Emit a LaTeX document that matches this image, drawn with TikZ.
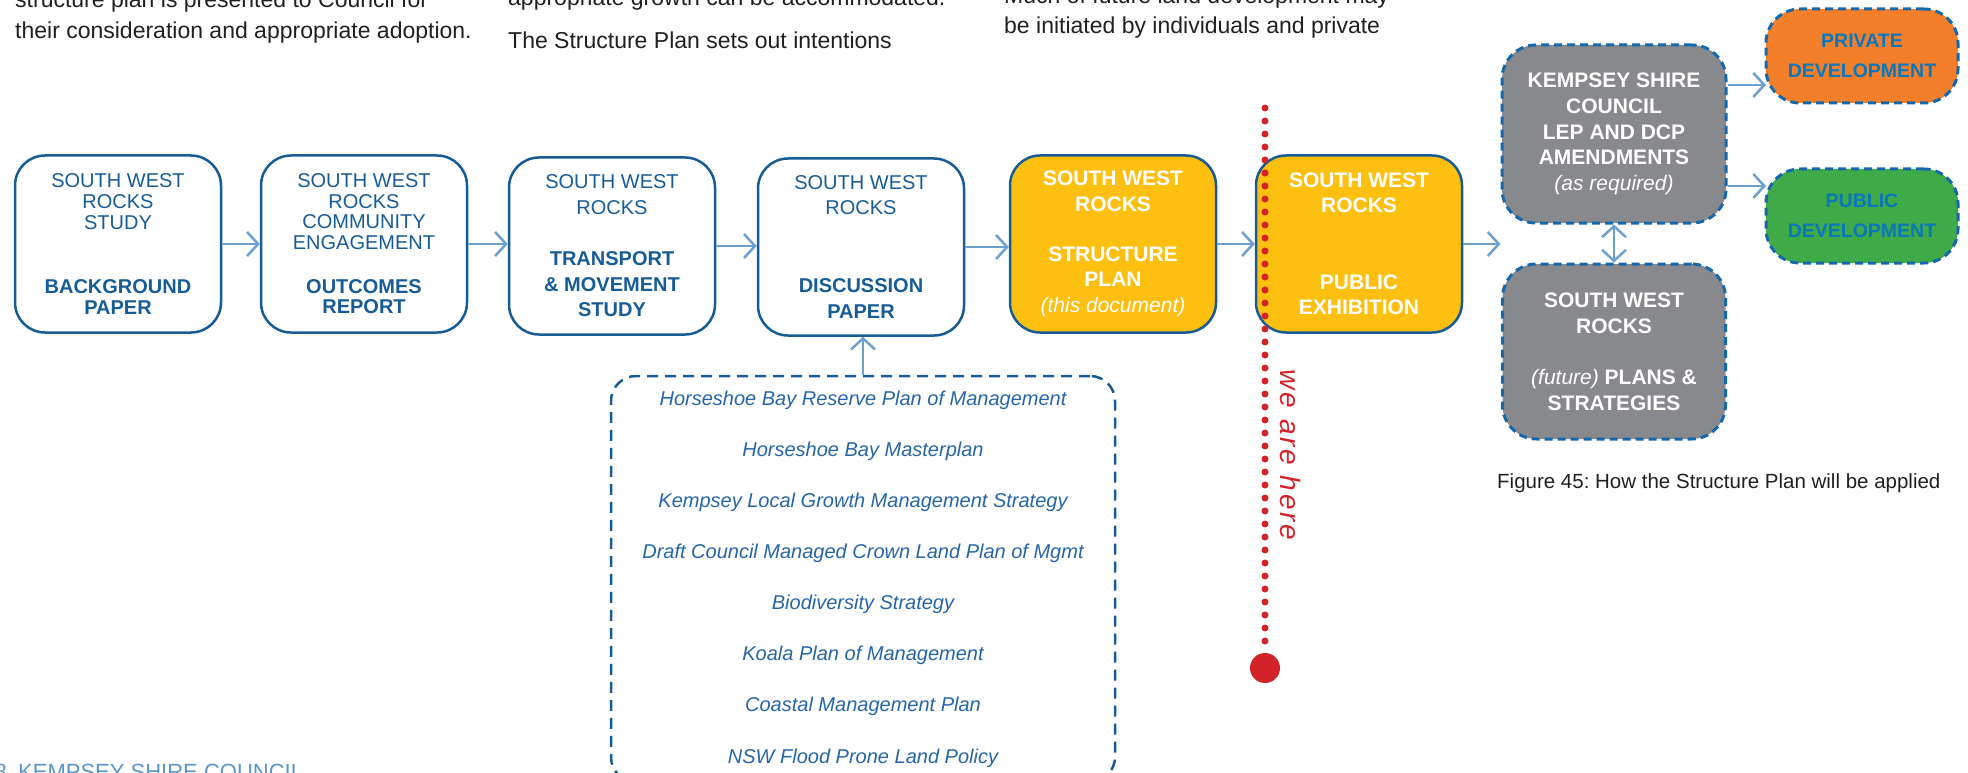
\documentclass[tikz,border=0pt]{standalone}
\usepackage{fontspec}
\setmainfont{Liberation Sans}
\newfontfamily\herefont[LetterSpace=10]{Liberation Sans}
\usetikzlibrary{arrows.meta}
\frenchspacing

\definecolor{swrblue}{RGB}{24,92,150}
\definecolor{listblue}{RGB}{38,102,166}
\definecolor{arrowblue}{RGB}{108,160,206}
\definecolor{swryellow}{RGB}{253,191,16}
\definecolor{swrgrey}{RGB}{135,137,140}
\definecolor{devorange}{RGB}{243,127,43}
\definecolor{devgreen}{RGB}{62,170,72}
\definecolor{dashblue}{RGB}{22,104,172}
\definecolor{devtext}{RGB}{10,118,188}
\definecolor{herered}{RGB}{210,35,42}
\definecolor{footblue}{RGB}{92,150,200}
\definecolor{bodytext}{RGB}{35,31,32}

\tikzset{
  bodytxt/.style={anchor=base west, inner sep=0pt, text=bodytext, font=\fontsize{23}{28}\selectfont},
  stage/.style={draw=swrblue, line width=2.5pt, rounded corners=30pt, minimum width=206pt, minimum height=177pt,
    inner sep=0pt, align=center, text=swrblue, font=\fontsize{20}{25.5}\selectfont},
  nowstage/.style={stage, fill=swryellow, text=white, font=\fontsize{21}{25.5}\selectfont\bfseries},
  laterstage/.style={draw=dashblue, line width=3pt, dash pattern=on 8pt off 5pt, rounded corners=34pt, fill=swrgrey,
    inner sep=0pt, align=center, text=white, font=\fontsize{21}{25.8}\selectfont\bfseries},
  devbox/.style={laterstage, minimum width=192pt, minimum height=94pt, text=devtext, font=\fontsize{19.5}{30}\selectfont\bfseries},
  reflist/.style={draw=swrblue, line width=2.5pt, dash pattern=on 11pt off 7pt, rounded corners=25pt, minimum width=504pt,
    minimum height=406pt, inner sep=0pt, align=center, text=listblue, font=\fontsize{20}{51.1}\selectfont\itshape},
  flow/.style={draw=arrowblue, line width=2.5pt, -{Straight Barb[length=11pt,width=24pt]}},
  hereline/.style={draw=herered, line width=7pt, line cap=round, dash pattern=on 0pt off 13pt},
}

\begin{document}
\begin{tikzpicture}[x=1pt,y=-1pt]
  \useasboundingbox (0,0) rectangle (1968,773);
  \clip (0,0) rectangle (1968,773);

  % page text round the figure
  \node[bodytxt] (introa) at (15,8) {structure plan is presented to Council for};
  \node[bodytxt] (introb) at (15,39) {their consideration and appropriate adoption.};
  \node[bodytxt] (growtha) at (508,6) {appropriate growth can be accommodated.};
  \node[bodytxt] (growthb) at (508,49) {The Structure Plan sets out intentions};
  \node[bodytxt] (landa) at (1004,4) {Much of future land development may};
  \node[bodytxt] (landb) at (1004,34) {be initiated by individuals and private};
  \node[anchor=base east, inner sep=0pt, text=footblue, font=\fontsize{22}{26}\selectfont] (pageno) at (7,779) {8};
  \node[anchor=base west, inner sep=0pt, text=footblue, font=\fontsize{22}{26}\selectfont] (footer) at (18,779) {KEMPSEY SHIRE COUNCIL};

  % the stages
  \node[stage, font=\fontsize{20}{21}\selectfont] (bgpaper) at (118,244)
    {SOUTH WEST\\ROCKS\\STUDY\\[43pt]\textbf{BACKGROUND}\\\textbf{PAPER}};
  \node[stage, font=\fontsize{20}{20.5}\selectfont] (outcomes) at (364,244)
    {SOUTH WEST\\ROCKS\\COMMUNITY\\ENGAGEMENT\\[23.5pt]\textbf{OUTCOMES}\\\textbf{REPORT}};
  \node[stage] (transport) at (612,246)
    {SOUTH WEST\\ROCKS\\[26pt]\textbf{TRANSPORT}\\\textbf{\& MOVEMENT}\\\textbf{STUDY}};
  \node[stage] (discussion) at (861,247)
    {SOUTH WEST\\ROCKS\\[52.5pt]\textbf{DISCUSSION}\\\textbf{PAPER}};
  \node[nowstage] (plan) at (1113,244)
    {SOUTH WEST\\ROCKS\\[24.5pt]STRUCTURE\\PLAN\\{\mdseries\itshape (this document)}};
  \node[nowstage] (exhibition) at (1359,244)
    {SOUTH WEST\\ROCKS\\[51pt]PUBLIC\\EXHIBITION};

  \node[laterstage, minimum width=224pt, minimum height=178pt] (lep) at (1614,134)
    {KEMPSEY SHIRE\\COUNCIL\\LEP AND DCP\\AMENDMENTS\\{\mdseries\itshape (as required)}};
  \node[laterstage, minimum width=223pt, minimum height=175pt] (future) at (1614,351.5)
    {SOUTH WEST\\ROCKS\\[25.5pt]{\mdseries\itshape (future)} PLANS \&\\STRATEGIES};
  \node[devbox, fill=devorange] (private) at (1862,56) {PRIVATE\\DEVELOPMENT};
  \node[devbox, fill=devgreen] (public) at (1862,216) {PUBLIC\\DEVELOPMENT};

  \node[reflist] (refs) at (863,579)
    {Horseshoe Bay Reserve Plan of Management\\Horseshoe Bay Masterplan\\
     Kempsey Local Growth Management Strategy\\Draft Council Managed Crown Land Plan of Mgmt\\
     Biodiversity Strategy\\Koala Plan of Management\\Coastal Management Plan\\NSW Flood Prone Land Policy};

  \node[anchor=base west, inner sep=0pt, text=bodytext, font=\fontsize{20.5}{24}\selectfont] (caption) at (1497,488)
    {Figure 45: How the Structure Plan will be applied};

  % connectors
  \draw[flow] (bgpaper.east) -- (bgpaper.east -| outcomes.west);
  \draw[flow] (outcomes.east) -- (outcomes.east -| transport.west);
  \draw[flow] (transport.east) -- (transport.east -| discussion.west);
  \draw[flow] (discussion.east) -- (discussion.east -| plan.west);
  \draw[flow] (plan.east) -- (plan.east -| exhibition.west);
  \draw[flow] (exhibition.east) -- (exhibition.east -| lep.west);
  \draw[flow] (refs.north) -- (refs.north |- discussion.south);
  \draw[draw=arrowblue, line width=2.5pt, {Straight Barb[length=11pt,width=24pt]}-{Straight Barb[length=11pt,width=24pt]}]
    (lep.south) -- (future.north);
  \coordinate (privin) at (1766,85);
  \coordinate (pubin) at (1766,186);
  \draw[flow] (lep.east |- privin) -- (privin);
  \draw[flow] (lep.east |- pubin) -- (pubin);

  % we are here
  \coordinate (heretop) at (1265,108);
  \node[circle, fill=herered, minimum size=30pt, inner sep=0pt] (hereend) at (1265,668) {};
  \draw[hereline] (heretop) -- (hereend.north);
  \node[rotate=-90, inner sep=0pt, text=herered, font=\fontsize{28}{30}\herefont\itshape] (weare) at (1290,455) {we are here};
\end{tikzpicture}
\end{document}
